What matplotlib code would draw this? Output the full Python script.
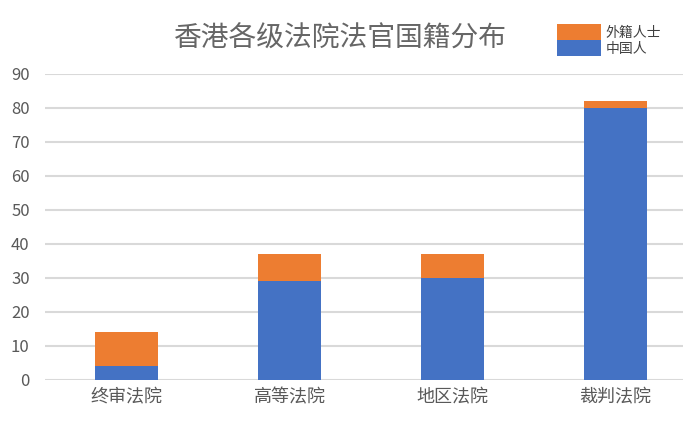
import matplotlib
matplotlib.use("Agg")
import matplotlib.pyplot as plt
import numpy as np

plt.rcParams['font.family'] = ['Noto Sans CJK SC', 'DejaVu Sans']

courts = ['终审法院', '高等法院', '地区法院', '裁判法院']
chinese = [4, 29, 30, 80]
foreign = [10, 8, 7, 2]
yticks = [0, 10, 20, 30, 40, 50, 60, 70, 80, 90]

blue = '#4472C4'
orange = '#ED7D31'
grey = '#595959'

fig = plt.figure(figsize=(6.83, 4.24), dpi=100)
ax = fig.add_axes([45 / 683, 44 / 424, 652 / 683, 306 / 424])

x = np.arange(len(courts))
w = 0.39
b1 = ax.bar(x, chinese, width=w, color=blue, label='中国人', zorder=3)
b2 = ax.bar(x, foreign, width=w, bottom=chinese, color=orange, label='外籍人士', zorder=3)

ax.set_xlim(-0.5, 3.5)
ax.set_ylim(0, 90)
ax.set_yticks(yticks)
ax.set_xticks(x)
ax.set_xticklabels(courts, fontsize=13, color=grey)
ax.tick_params(axis='y', length=0, pad=11, labelsize=12, labelcolor=grey)
ax.tick_params(axis='x', length=0, pad=6)
ax.grid(axis='y', color='#D9D9D9', linewidth=1.5, zorder=0)
ax.set_axisbelow(True)
for s in ax.spines.values():
    s.set_visible(False)

fig.text(340 / 683, 1 - 39 / 424, '香港各级法院法官国籍分布', ha='center', va='center',
         fontsize=20, color='#666666', fontweight='light')

leg = fig.legend([b2, b1], ['外籍人士', '中国人'], loc='upper left',
                 bbox_to_anchor=(550 / 683, 1 - 17 / 424), frameon=False,
                 fontsize=10, handlelength=3.2, handleheight=1.4, labelspacing=0,
                 handletextpad=0.3, borderpad=0)
for t in leg.get_texts():
    t.set_color('#404040')

fig.savefig('out.png', dpi=100)
